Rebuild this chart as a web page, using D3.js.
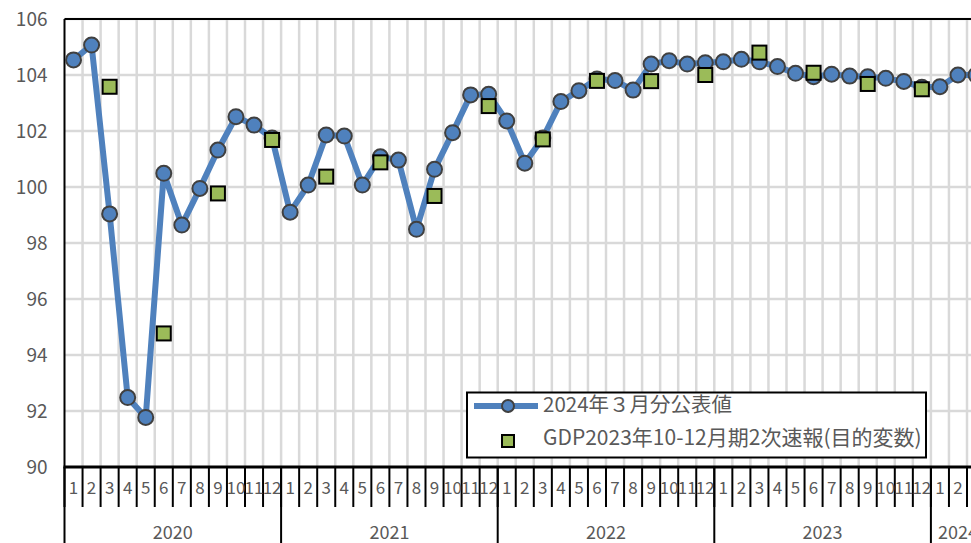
<!DOCTYPE html>
<html>
<head>
<meta charset="utf-8">
<script src="https://cdn.jsdelivr.net/npm/d3@7"></script>
<style>
  html, body { margin: 0; padding: 0; background: #fff; overflow: hidden; }
  svg { display: block; }
  text { font-family: "Noto Sans CJK JP", "Noto Sans", sans-serif; }
</style>
</head>
<body>
<svg id="chart" width="971" height="543"></svg>
<script>
// ---- data ----
const years = [2020, 2021, 2022, 2023, 2024];
const monthsPerYear = [12, 12, 12, 12, 3];
const yTicks = [90, 92, 94, 96, 98, 100, 102, 104, 106];

const seriesLineName = "2024年３月分公表値";
const seriesGdpName = "GDP2023年10-12月期2次速報(目的変数)";

const lineValues = [
  // 2020
  104.54, 105.07, 99.04, 92.48, 91.77, 100.49, 98.64, 99.95, 101.32, 102.51, 102.21, 101.75,
  // 2021
  99.10, 100.07, 101.86, 101.82, 100.07, 101.08, 100.96, 98.49, 100.63, 101.94, 103.29, 103.31,
  // 2022
  102.36, 100.85, 101.75, 103.05, 103.44, 103.86, 103.80, 103.46, 104.39, 104.51, 104.39, 104.44,
  // 2023
  104.47, 104.56, 104.47, 104.30, 104.06, 103.94, 104.03, 103.96, 103.94, 103.88, 103.77, 103.56,
  // 2024
  103.58, 104.00, 104.00
];

// GDP quarterly values (placed at months 3, 6, 9, 12)
const gdpKeys = ["2020-3","2020-6","2020-9","2020-12","2021-3","2021-6","2021-9","2021-12",
                 "2022-3","2022-6","2022-9","2022-12","2023-3","2023-6","2023-9","2023-12"];
const gdpValues = [103.58, 94.77, 99.77, 101.68, 100.37, 100.88, 99.68, 102.89,
                   101.70, 103.79, 103.78, 104.00, 104.80, 104.08, 103.68, 103.49];

(function () {
// ---- build categories ----
const cats = [];
years.forEach((yr, yi) => {
  for (let m = 1; m <= monthsPerYear[yi]; m++) cats.push({ key: yr + "-" + m, year: yr, month: m });
});
const lineData = cats.map((c, i) => ({ key: c.key, v: lineValues[i] }));
const gdpData = gdpKeys.map((k, i) => ({ key: k, v: gdpValues[i] }));

// ---- layout ----
const svg = d3.select("#chart");
const pLeft = 64.5, pTop = 19, pBottom = 467;
const step = 18.05;
const pRight = pLeft + cats.length * step;

const x = d3.scaleBand().domain(cats.map(c => c.key)).range([pLeft, pRight]).padding(0);
const y = d3.scaleLinear().domain([90, 106]).range([pBottom, pTop]);

const gridColor = "#d9d9d9";
const textColor = "#595959";

// horizontal grid
svg.append("g").selectAll("line").data(yTicks.filter(t => t > 90)).join("line")
  .attr("x1", pLeft).attr("x2", pRight)
  .attr("y1", d => y(d)).attr("y2", d => y(d))
  .attr("stroke", gridColor).attr("stroke-width", 2.5);

// vertical grid at month boundaries
svg.append("g").selectAll("line").data(cats.slice(1)).join("line")
  .attr("x1", d => x(d.key)).attr("x2", d => x(d.key))
  .attr("y1", pTop).attr("y2", pBottom)
  .attr("stroke", gridColor).attr("stroke-width", 2.5);

// top border and left axis
svg.append("line").attr("x1", pLeft).attr("x2", pRight).attr("y1", pTop).attr("y2", pTop)
  .attr("stroke", "#000").attr("stroke-width", 2);
svg.append("line").attr("x1", pLeft).attr("x2", pLeft).attr("y1", pTop).attr("y2", pBottom)
  .attr("stroke", "#000").attr("stroke-width", 2);

// y axis labels via d3 axis
const yAxis = d3.axisLeft(y).tickValues(yTicks).tickSize(0).tickPadding(0).tickFormat(d3.format("d"));
const yg = svg.append("g").attr("transform", `translate(${pLeft - 17},0)`).call(yAxis);
yg.select(".domain").remove();
yg.selectAll("text").attr("fill", textColor).attr("font-size", 19)
  .attr("font-family", "'Noto Sans CJK JP', sans-serif").attr("dy", "0.35em");

// bottom axis line
svg.append("line").attr("x1", pLeft - 1).attr("x2", pRight).attr("y1", pBottom).attr("y2", pBottom)
  .attr("stroke", "#000").attr("stroke-width", 3);

// month tick lines
svg.append("g").selectAll("line").data(cats).join("line")
  .attr("x1", d => x(d.key)).attr("x2", d => x(d.key))
  .attr("y1", pBottom).attr("y2", 507)
  .attr("stroke", "#000").attr("stroke-width", 2);

// month labels
svg.append("g").selectAll("text").data(cats).join("text")
  .attr("x", d => x(d.key) + x.bandwidth() / 2)
  .attr("y", 488).attr("dy", "0.35em")
  .attr("text-anchor", "middle").attr("font-size", 17).attr("fill", textColor)
  .text(d => d.month);

// year separators and labels
const yearInfo = [];
let idx = 0;
years.forEach((yr, yi) => {
  const startKey = cats[idx].key;
  const endKey = cats[idx + monthsPerYear[yi] - 1].key;
  yearInfo.push({ year: yr, x0: x(startKey), x1: x(endKey) + x.bandwidth() });
  idx += monthsPerYear[yi];
});
svg.append("g").selectAll("line").data(yearInfo).join("line")
  .attr("x1", d => d.x0).attr("x2", d => d.x0)
  .attr("y1", pBottom).attr("y2", 543)
  .attr("stroke", "#000").attr("stroke-width", 2);
svg.append("line").attr("x1", pRight).attr("x2", pRight).attr("y1", pBottom).attr("y2", 543)
  .attr("stroke", "#000").attr("stroke-width", 2);
svg.append("g").selectAll("text").data(yearInfo).join("text")
  .attr("x", d => (d.x0 + d.x1) / 2).attr("y", 533).attr("dy", "0.35em")
  .attr("text-anchor", "middle").attr("font-size", 18).attr("fill", textColor)
  .text(d => d.year);

// line series
const cx = k => x(k) + x.bandwidth() / 2;
const lineGen = d3.line().x(d => cx(d.key)).y(d => y(d.v));
svg.append("path").datum(lineData).attr("d", lineGen)
  .attr("fill", "none").attr("stroke", "#4f81bd").attr("stroke-width", 6)
  .attr("stroke-linejoin", "round");
svg.append("g").selectAll("circle").data(lineData).join("circle")
  .attr("cx", d => cx(d.key)).attr("cy", d => y(d.v)).attr("r", 7.5)
  .attr("fill", "#4f81bd").attr("stroke", "#404040").attr("stroke-width", 2);

// GDP squares
const sq = 14;
svg.append("g").selectAll("rect").data(gdpData).join("rect")
  .attr("x", d => cx(d.key) - sq / 2).attr("y", d => y(d.v) - sq / 2)
  .attr("width", sq).attr("height", sq)
  .attr("fill", "#9bbb59").attr("stroke", "#000").attr("stroke-width", 2);

// legend
const lg = svg.append("g");
lg.append("rect").attr("x", 467).attr("y", 392.5).attr("width", 459).attr("height", 65)
  .attr("fill", "#fff").attr("stroke", "#000").attr("stroke-width", 2);
lg.append("line").attr("x1", 474).attr("x2", 538).attr("y1", 406).attr("y2", 406)
  .attr("stroke", "#4f81bd").attr("stroke-width", 6);
lg.append("circle").attr("cx", 508).attr("cy", 406).attr("r", 6)
  .attr("fill", "#4f81bd").attr("stroke", "#404040").attr("stroke-width", 2);
lg.append("rect").attr("x", 502).attr("y", 435).attr("width", 12).attr("height", 12)
  .attr("fill", "#9bbb59").attr("stroke", "#000").attr("stroke-width", 2);
lg.append("text").attr("x", 543).attr("y", 405).attr("dy", "0.35em")
  .attr("font-size", 20.5).attr("fill", textColor).text(seriesLineName);
lg.append("text").attr("x", 543).attr("y", 438).attr("dy", "0.35em")
  .attr("font-size", 21).attr("fill", textColor).text(seriesGdpName);
})();
</script>
</body>
</html>
